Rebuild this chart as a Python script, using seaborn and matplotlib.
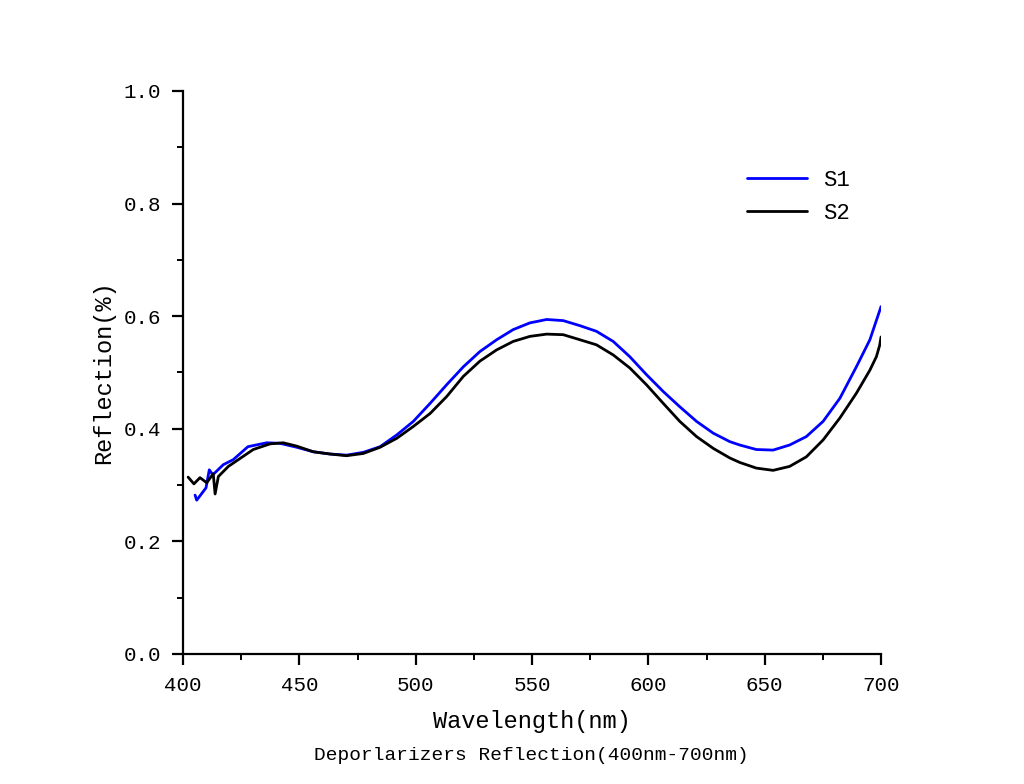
import matplotlib.pyplot as plt
import seaborn as sns
import pandas as pd
from matplotlib.ticker import MultipleLocator

# -----------------------------
# Data
# -----------------------------
s1_wavelength = [405.2, 405.9, 409.9, 411.3, 412.8, 417.3, 421.6, 427.9, 436.0,
                 441.7, 448.9, 456.0, 463.2, 470.3, 477.5, 484.7, 491.9, 499.0,
                 506.2, 513.3, 520.5, 527.6, 534.8, 541.9, 549.1, 556.3, 563.4,
                 570.6, 577.7, 584.9, 592.0, 599.2, 606.4, 613.5, 620.7, 627.9,
                 635.0, 639.3, 646.4, 653.6, 660.7, 667.9, 675.1, 682.3, 689.4,
                 695.2, 700.0]
s1_reflection = [0.282, 0.273, 0.295, 0.327, 0.318, 0.336, 0.345, 0.368, 0.375,
                 0.374, 0.367, 0.359, 0.355, 0.353, 0.358, 0.368, 0.389, 0.413,
                 0.445, 0.478, 0.510, 0.537, 0.558, 0.576, 0.588, 0.594, 0.592,
                 0.583, 0.573, 0.555, 0.528, 0.496, 0.466, 0.439, 0.413, 0.392,
                 0.377, 0.371, 0.363, 0.362, 0.371, 0.386, 0.413, 0.454, 0.510,
                 0.558, 0.617]

s2_wavelength = [402.2, 404.7, 407.3, 410.2, 413.0, 413.8, 415.2, 419.5, 430.2,
                 437.4, 443.0, 448.9, 456.0, 463.2, 470.3, 477.5, 484.7, 491.9,
                 499.0, 506.2, 513.3, 520.5, 527.6, 534.8, 541.9, 549.1, 556.3,
                 563.4, 570.6, 577.7, 584.9, 592.0, 599.2, 606.4, 613.5, 620.7,
                 627.9, 635.0, 639.3, 646.4, 653.6, 660.7, 667.9, 675.1, 682.3,
                 689.4, 695.2, 698.0, 699.4, 700.0]
s2_reflection = [0.314, 0.302, 0.313, 0.304, 0.320, 0.284, 0.315, 0.333, 0.363,
                 0.373, 0.375, 0.369, 0.359, 0.355, 0.352, 0.356, 0.367, 0.383,
                 0.404, 0.427, 0.457, 0.493, 0.520, 0.540, 0.555, 0.564, 0.568,
                 0.567, 0.558, 0.549, 0.531, 0.508, 0.478, 0.445, 0.413, 0.386,
                 0.365, 0.348, 0.340, 0.330, 0.326, 0.333, 0.350, 0.380, 0.419,
                 0.463, 0.504, 0.528, 0.548, 0.563]

data = pd.concat([
    pd.DataFrame({"Wavelength": s1_wavelength, "Reflection": s1_reflection, "Sample": "S1"}),
    pd.DataFrame({"Wavelength": s2_wavelength, "Reflection": s2_reflection, "Sample": "S2"}),
], ignore_index=True)

# -----------------------------
# Style
# -----------------------------
sns.set_style("ticks")
plt.rcParams["font.family"] = ["Liberation Mono", "DejaVu Sans Mono"]
plt.rcParams["text.color"] = "black"
plt.rcParams["axes.labelcolor"] = "black"

fig = plt.figure(figsize=(10.24, 7.84), dpi=100)
ax = fig.add_axes([0.1787, 0.166, 0.6817, 0.718])

sns.lineplot(
    data=data,
    x="Wavelength",
    y="Reflection",
    hue="Sample",
    palette={"S1": "#0000ff", "S2": "#000000"},
    estimator=None,
    sort=False,
    linewidth=2,
    ax=ax,
)

ax.set_xlim(400, 700)
ax.set_ylim(0, 1.0)
ax.xaxis.set_major_locator(MultipleLocator(50))
ax.xaxis.set_minor_locator(MultipleLocator(25))
ax.yaxis.set_major_locator(MultipleLocator(0.2))
ax.yaxis.set_minor_locator(MultipleLocator(0.1))
ax.yaxis.set_major_formatter(plt.FuncFormatter(lambda v, p: f"{v:.1f}"))

sns.despine(ax=ax)
for side in ["left", "bottom"]:
    ax.spines[side].set_linewidth(1.6)
    ax.spines[side].set_color("black")

ax.tick_params(which="major", direction="out", length=8, width=1.6,
               labelsize=15, colors="black", pad=8)
ax.tick_params(which="minor", direction="out", length=4, width=1.4, colors="black")

ax.set_xlabel("Wavelength(nm)", fontsize=17, labelpad=11)
ax.set_ylabel("Reflection(%)", fontsize=17, labelpad=6)

ax.legend(
    loc="upper left",
    bbox_to_anchor=(0.78, 0.895),
    frameon=False,
    fontsize=16,
    handlelength=2.7,
    handletextpad=0.7,
    labelspacing=0.55,
)

fig.text(0.519, 0.036, "Deporlarizers Reflection(400nm-700nm)",
         ha="center", va="center", fontsize=14)

plt.savefig("out.png", dpi=100)
